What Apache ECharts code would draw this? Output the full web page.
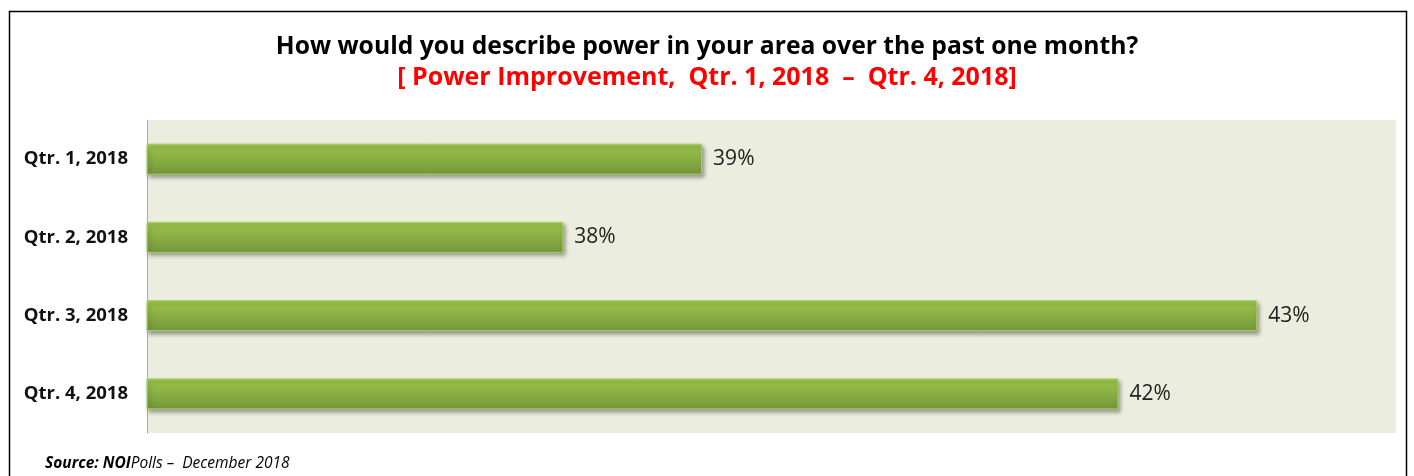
<!DOCTYPE html>
<html>
<head>
<meta charset="utf-8">
<script src="https://cdn.jsdelivr.net/npm/echarts@6/dist/echarts.min.js"></script>
<style>
  html, body { margin: 0; padding: 0; background: #fff; }
  #chart { width: 1414px; height: 476px; }
</style>
</head>
<body>
<div id="chart"></div>
<script>
var quarters = ['Qtr. 1, 2018', 'Qtr. 2, 2018', 'Qtr. 3, 2018', 'Qtr. 4, 2018'];
var improvement = [39, 38, 43, 42];

var chart = echarts.init(document.getElementById('chart'));
var font = '"Open Sans", "DejaVu Sans", sans-serif';

var option = {
    backgroundColor: '#ffffff',
    animation: false,
    title: {
        text: 'How would you describe power in your area over the past one month?',
        subtext: '[ Power Improvement,  Qtr. 1, 2018  \u2013  Qtr. 4, 2018]',
        left: 'center',
        top: 29,
        itemGap: 6,
        textStyle: { fontFamily: font, fontSize: 24.7, fontWeight: 'bold', color: '#000' },
        subtextStyle: { fontFamily: font, fontSize: 25, fontWeight: 'bold', color: '#ff0000' }
    },
    grid: {
        left: 147, right: 18, top: 120, bottom: 43,
        show: true, backgroundColor: '#ebeedf', borderWidth: 0
    },
    xAxis: {
        type: 'value',
        min: 35,
        max: 44,
        show: false
    },
    yAxis: {
        type: 'category',
        data: quarters,
        inverse: true,
        axisLine: { lineStyle: { color: '#aaa', width: 1 } },
        axisTick: { length: 7, lineStyle: { color: '#aaa' } },
        axisLabel: { fontFamily: font, fontSize: 18.5, fontWeight: 'bold', color: '#111', margin: 19 }
    },
    series: [{
        type: 'bar',
        data: improvement,
        barWidth: 31,
        itemStyle: {
            color: new echarts.graphic.LinearGradient(0, 0, 0, 1, [
                { offset: 0, color: '#9dc84c' },
                { offset: 1, color: '#74953a' }
            ]),
            borderColor: '#a9cf63',
            borderWidth: 1,
            shadowColor: 'rgba(0,0,0,0.35)',
            shadowBlur: 4,
            shadowOffsetX: 2,
            shadowOffsetY: 3
        },
        label: {
            show: true,
            position: 'right',
            distance: 11,
            formatter: '{c}%',
            fontFamily: font,
            fontSize: 21,
            color: '#222'
        }
    }],
    graphic: [
        {
            type: 'rect',
            shape: { x: 9.5, y: 11.5, width: 1397, height: 490 },
            style: { fill: 'none', stroke: '#000', lineWidth: 1.5 },
            silent: true
        },
        {
            type: 'text',
            left: 45,
            top: 456,
            style: {
                text: '{b|Source: NOI}{n|Polls \u2013  December 2018}',
                rich: {
                    b: { fontFamily: font, fontSize: 15.5, fontWeight: 'bold', fontStyle: 'italic', fill: '#000' },
                    n: { fontFamily: font, fontSize: 15.5, fontStyle: 'italic', fill: '#000' }
                }
            }
        }
    ]
};

chart.setOption(option);
</script>
</body>
</html>
